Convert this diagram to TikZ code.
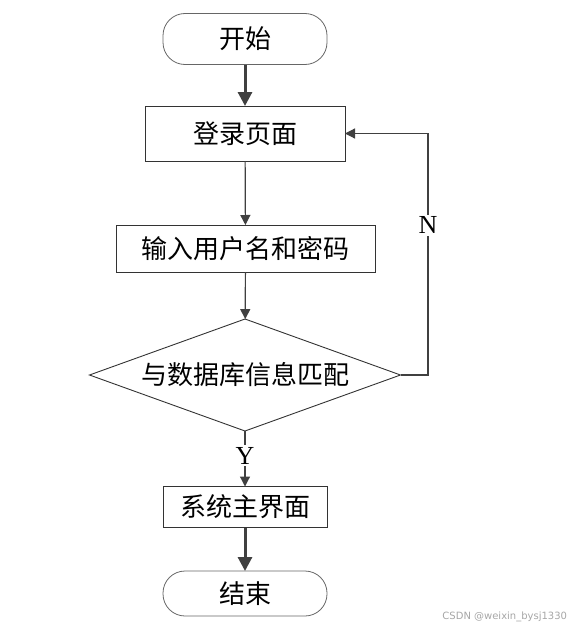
\documentclass[tikz,border=0pt]{standalone}
\usepackage{fontspec}
\setmainfont{Liberation Serif}
\newfontfamily\cjk{Noto Sans CJK SC}
\newfontfamily\wmfont{DejaVu Sans}
\usetikzlibrary{arrows.meta,shapes.geometric}
\definecolor{linegray}{HTML}{404040}
\begin{document}
\begin{tikzpicture}[x=1pt,y=-1pt,
  every node/.style={inner sep=0pt,outer sep=0pt},
  lbl/.style={font=\cjk\fontsize{26}{30}\selectfont},
  term/.style={lbl,draw=gray!80!black,line width=0.8pt,rounded corners=22pt,minimum width=164pt},
  procbox/.style={lbl,draw=black!80,line width=0.9pt,rectangle},
  decide/.style={lbl,draw=black!80,line width=0.9pt,diamond,aspect=2.78,minimum width=311pt,minimum height=112pt},
  thickarrow/.style={draw=linegray,line width=3pt,-{Triangle[length=14pt,width=14pt]}},
  thinarrow/.style={draw=linegray,line width=1.2pt,-{Triangle[length=10pt,width=10pt]}},
  yn/.style={font=\fontsize{26}{28}\selectfont,fill=white,inner sep=2pt}]
\useasboundingbox (0,0) rectangle (569,629);
\node[term,minimum height=51pt] (start) at (245,39) {开始};
\node[procbox,minimum width=200pt,minimum height=55pt] (login) at (245,133.5) {登录页面};
\node[procbox,minimum width=259pt,minimum height=47pt] (input) at (245.5,248.5) {输入用户名和密码};
\node[decide] (match) at (245,375) {与数据库信息匹配};
\node[procbox,minimum width=164pt,minimum height=41pt] (sys) at (245,507) {系统主界面};
\node[term,minimum height=45pt] (end) at (245,593.5) {结束};
\coordinate (nr) at (428,375);
\coordinate (nt) at (428,133.5);
\draw[thickarrow] (start) -- (login);
\draw[thinarrow] (login) -- (input);
\draw[thinarrow] (input) -- (match);
\draw[thinarrow] (match) -- node[yn,pos=0.45] (ylab) {Y} (sys);
\draw[thickarrow] (sys) -- (end);
\draw[draw=linegray,line width=1.2pt,-{Triangle[length=10pt,width=10pt]}] (match.east) -- (nr) -- node[yn,pos=0.62] (nlab) {N} (nt) -- (login.east);
\node[font=\wmfont\fontsize{10}{11}\selectfont,text=gray!70,anchor=east] (wm) at (567,617) {CSDN @weixin\_bysj1330};
\end{tikzpicture}
\end{document}
